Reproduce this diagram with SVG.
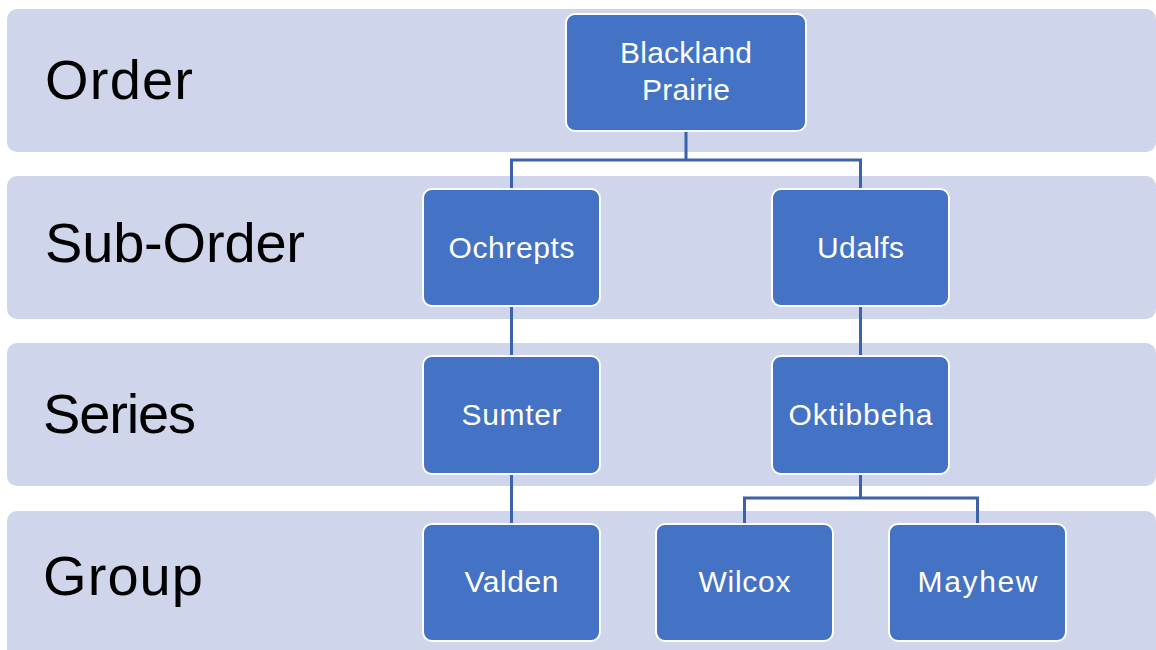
<svg xmlns="http://www.w3.org/2000/svg" width="1156" height="650" viewBox="0 0 1156 650">
<style>
.band{fill:#CFD5EA;}
.lbl{font-family:"Liberation Sans",Arial,sans-serif;font-size:56px;fill:#000;}
.box{fill:#4472C4;stroke:#FFFFFF;stroke-width:2;}
.nt{font-family:"Liberation Sans",Arial,sans-serif;font-size:30px;fill:#FFFFFF;text-anchor:middle;}
.con{fill:none;stroke:#3B62AB;stroke-width:3;}
</style>
<rect width="1156" height="650" fill="#FFFFFF"/>
<g id="bands">
<rect class="band" x="7" y="9" width="1149" height="143" rx="10"/>
<rect class="band" x="7" y="176" width="1149" height="143" rx="10"/>
<rect class="band" x="7" y="343" width="1149" height="143" rx="10"/>
<rect class="band" x="7" y="511" width="1149" height="150" rx="10"/>
</g>
<g id="labels">
<text class="lbl" x="45" y="99" textLength="148">Order</text>
<text class="lbl" x="45" y="262" textLength="260">Sub-Order</text>
<text class="lbl" x="43" y="433" textLength="153">Series</text>
<text class="lbl" x="43" y="595" textLength="160">Group</text>
</g>
<g id="connectors">
<path class="con" d="M686,132 V160 M511.5,160 H860.5 M511.5,158.5 V188 M860.5,158.5 V188"/>
<path class="con" d="M511.5,307 V355"/>
<path class="con" d="M860.5,307 V355"/>
<path class="con" d="M511.5,475 V523"/>
<path class="con" d="M860.5,475 V498 M744.5,498 H977.5 M744.5,496.5 V523 M977.5,496.5 V523"/>
</g>
<g id="node-blackland">
<rect class="box" x="566" y="14" width="240" height="117" rx="9"/>
<text class="nt" x="686" y="63" textLength="132">Blackland</text>
<text class="nt" x="686" y="100" textLength="88">Prairie</text>
</g>
<g id="node-ochrepts">
<rect class="box" x="423" y="189" width="177" height="117" rx="9"/>
<text class="nt" x="511.5" y="258" textLength="126">Ochrepts</text>
</g>
<g id="node-udalfs">
<rect class="box" x="772" y="189" width="177" height="117" rx="9"/>
<text class="nt" x="860.5" y="258" textLength="87">Udalfs</text>
</g>
<g id="node-sumter">
<rect class="box" x="423" y="356" width="177" height="118" rx="9"/>
<text class="nt" x="511.5" y="425" textLength="100">Sumter</text>
</g>
<g id="node-oktibbeha">
<rect class="box" x="772" y="356" width="177" height="118" rx="9"/>
<text class="nt" x="860.5" y="425" textLength="144">Oktibbeha</text>
</g>
<g id="node-valden">
<rect class="box" x="423" y="524" width="177" height="117" rx="9"/>
<text class="nt" x="511.5" y="592" textLength="94">Valden</text>
</g>
<g id="node-wilcox">
<rect class="box" x="656" y="524" width="177" height="117" rx="9"/>
<text class="nt" x="744.5" y="592" textLength="92">Wilcox</text>
</g>
<g id="node-mayhew">
<rect class="box" x="889" y="524" width="177" height="117" rx="9"/>
<text class="nt" x="977.5" y="592" textLength="120">Mayhew</text>
</g>
</svg>
